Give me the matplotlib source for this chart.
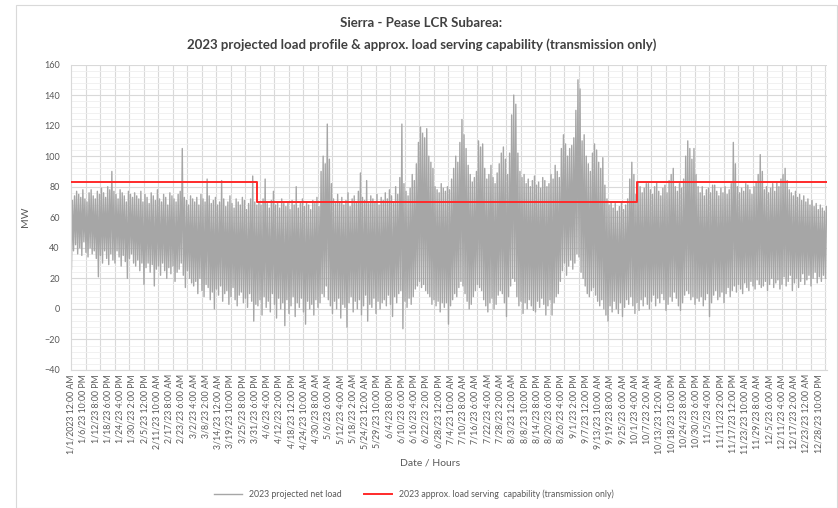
import matplotlib
matplotlib.use("Agg")
import matplotlib.pyplot as plt
import numpy as np
import pandas as pd
from matplotlib.patches import Rectangle
from matplotlib.ticker import FixedLocator, MultipleLocator

plt.rcParams["font.family"] = ["Lato", "DejaVu Sans"]

# Daily peak / trough of the 2023 projected net load (MW), by month
high_by_month = [
    [71, 74, 77, 75, 73, 78, 72, 70, 76, 78, 74, 72, 77, 75, 79, 76, 73, 80, 78, 90,
     77, 75, 72, 78, 76, 74, 70, 77, 75, 73, 76],
    [74, 72, 77, 70, 75, 73, 69, 76, 74, 71, 78, 72, 70, 75, 73, 68, 76, 74, 72, 70,
     75, 77, 105, 73, 71, 68, 74, 72],
    [70, 73, 68, 75, 72, 70, 85, 74, 69, 71, 73, 68, 70, 84, 72, 67, 70, 74, 69, 66,
     72, 70, 68, 73, 71, 65, 69, 72, 87, 70, 68],
    [70, 68, 72, 85, 69, 66, 71, 77, 68, 70, 66, 72, 69, 67, 70, 65, 71, 68, 80, 66,
     69, 72, 67, 70, 68, 65, 71, 69, 73, 67],
    [90, 100, 95, 121, 98, 82, 72, 69, 75, 70, 73, 68, 71, 76, 67, 72, 74, 70, 77, 89,
     73, 71, 84, 69, 74, 72, 70, 75, 68, 73, 71],
    [76, 72, 78, 74, 70, 80, 75, 86, 121, 82, 77, 74, 79, 88, 84, 95, 109, 119, 115, 112,
     118, 100, 96, 92, 80, 78, 76, 82, 79, 77],
    [80, 78, 85, 92, 100, 96, 109, 124, 114, 105, 94, 88, 83, 86, 90, 110, 106, 108, 92, 85,
     88, 94, 86, 82, 89, 95, 102, 106, 98, 88, 102],
    [127, 140, 134, 102, 90, 86, 88, 82, 85, 80, 84, 87, 81, 83, 79, 86, 84, 80, 82, 88,
     85, 94, 90, 86, 105, 114, 108, 100, 105, 107, 112],
    [130, 150, 144, 110, 114, 100, 95, 90, 102, 108, 104, 96, 92, 99, 81, 72, 68, 70, 66, 69,
     64, 67, 70, 65, 68, 72, 85, 96, 88, 75],
    [83, 80, 76, 79, 82, 82, 78, 75, 80, 83, 77, 74, 79, 81, 76, 84, 88, 92, 80, 77,
     82, 79, 85, 100, 110, 105, 98, 105, 88, 80, 76],
    [80, 74, 78, 79, 76, 81, 81, 77, 74, 79, 76, 80, 75, 78, 82, 109, 95, 80, 76, 79,
     77, 82, 81, 78, 75, 80, 83, 88, 101, 90],
    [78, 80, 76, 79, 82, 77, 83, 80, 85, 88, 92, 84, 78, 76, 74, 77, 73, 75, 71, 74,
     70, 72, 68, 71, 67, 69, 65, 68, 66, 64, 67],
]
low_by_month = [
    [26, 38, 42, 36, 40, 35, 44, 37, 34, 40, 36, 38, 33, 21, 35, 30, 38, 33, 29, 36,
     32, 30, 38, 34, 28, 35, 31, 20, 33, 36, 30],
    [28, 32, 25, 30, 16, 27, 30, 24, 29, 15, 26, 28, 22, 30, 25, 20, 27, 23, 28, 18,
     24, 26, 30, 22, 14, 25, 20, 17],
    [15, 18, 10, 20, 12, 8, 16, 14, 6, 11, 0, 13, 9, 15, 5, 10, 12, 3, 8, 14,
     6, 2, 9, 11, 4, 7, 1, 10, 5, -8, 3],
    [2, 6, -4, 8, 1, 5, -2, 10, 3, -6, 7, 0, 4, -11, 6, -3, 2, 8, -5, 4,
     1, 7, -2, -10, 5, 0, 3, -4, 6, 1],
    [4, 10, 8, 15, 6, 2, -3, 5, 0, 7, -6, 3, 1, -12, 4, 8, -2, 5, 0, 6,
     -4, 2, 9, -8, 3, 1, 7, -3, 5, 0, 4],
    [6, 2, 9, 3, -5, 8, 4, 10, 12, -13, 5, 1, 7, 3, 8, 13, 15, 18, 14, 16,
     12, 10, 8, 3, 6, 2, 5, -2, 4, 1],
    [4, -10, 2, 6, 10, 8, 14, 18, 15, 10, 5, 0, 3, 8, 12, 16, 14, 12, 6, 2,
     -2, 4, 7, 0, 3, 9, 12, 10, 4, -5, 8],
    [15, 20, 18, 8, 2, 5, -3, 4, 0, 6, 2, -1, -2, 5, 1, 7, 3, -4, 2, 6,
     -4, 4, 8, 10, 18, 25, 30, 22, 28, 32, 26],
    [30, 36, 34, 24, 20, 15, 10, 8, 12, 14, 9, 5, 2, 6, 0, -4, -8, 2, -2, 5,
     0, -3, 4, -5, 1, 6, 3, 8, 2, -3],
    [4, -1, 6, 2, 8, 3, 0, 5, 9, 2, 7, 4, 10, 6, -1, 3, 8, 5, 11, 7,
     2, -1, 4, 9, 12, 10, 6, 8, 3, 7, 5],
    [8, 2, 6, 10, -5, 4, 9, 12, 6, 8, 11, 4, 10, 14, 8, 12, 15, 11, 16, 13,
     10, 17, 14, 12, 18, 15, 13, 19, 16, 14],
    [15, 18, 12, 16, 20, 14, 17, 19, 13, 16, 21, 15, 18, 22, 12, 17, 20, 14, 18, 23,
     16, 19, 22, 15, 20, 24, 17, 21, 18, 22, 20],
]

# Load serving capability (MW) and the dates it changes
capability_mw = [83, 70, 83]
capability_from = ["2023-01-01", "2023-04-01", "2023-10-01"]

tick_labels = [
    "1/1/2023 12:00 AM", "1/6/23 10:00 PM", "1/12/23 8:00 PM", "1/18/23 6:00 PM",
    "1/24/23 4:00 PM", "1/30/23 2:00 PM", "2/5/23 12:00 PM", "2/11/23 10:00 AM",
    "2/17/23 8:00 AM", "2/23/23 6:00 AM", "3/2/23 4:00 AM", "3/8/23 2:00 AM",
    "3/14/23 12:00 AM", "3/19/23 10:00 PM", "3/25/23 8:00 PM", "3/31/23 6:00 PM",
    "4/6/23 4:00 PM", "4/12/23 2:00 PM", "4/18/23 12:00 PM", "4/24/23 10:00 AM",
    "4/30/23 8:00 AM", "5/6/23 6:00 AM", "5/12/23 4:00 AM", "5/18/23 2:00 AM",
    "5/24/23 12:00 AM", "5/29/23 10:00 PM", "6/4/23 8:00 PM", "6/10/23 6:00 PM",
    "6/16/23 4:00 PM", "6/22/23 2:00 PM", "6/28/23 12:00 PM", "7/4/23 10:00 AM",
    "7/10/23 8:00 AM", "7/16/23 6:00 AM", "7/22/23 4:00 AM", "7/28/23 2:00 AM",
    "8/3/23 12:00 AM", "8/8/23 10:00 PM", "8/14/23 8:00 PM", "8/20/23 6:00 PM",
    "8/26/23 4:00 PM", "9/1/23 2:00 PM", "9/7/23 12:00 PM", "9/13/23 10:00 AM",
    "9/19/23 8:00 AM", "9/25/23 6:00 AM", "10/1/23 4:00 AM", "10/7/23 2:00 AM",
    "10/13/23 12:00 AM", "10/18/23 10:00 PM", "10/24/23 8:00 PM", "10/30/23 6:00 PM",
    "11/5/23 4:00 PM", "11/11/23 2:00 PM", "11/17/23 12:00 PM", "11/23/23 10:00 AM",
    "11/29/23 8:00 AM", "12/5/23 6:00 AM", "12/11/23 4:00 AM", "12/17/23 2:00 AM",
    "12/23/23 12:00 AM", "12/28/23 10:00 PM",
]

daily_high = np.concatenate([np.array(m, dtype=float) for m in high_by_month])
daily_low = np.concatenate([np.array(m, dtype=float) for m in low_by_month])
n_days = len(daily_high)
n_hours = n_days * 24

# hour index of each daily trough / peak, the line zigzags between them
day_start = np.arange(n_days) * 24
load_x = np.column_stack([day_start + 5, day_start + 17]).ravel()
load_y = np.column_stack([daily_low, daily_high]).ravel()

year_start = pd.Timestamp("2023-01-01")
cap_x = [(pd.Timestamp(d) - year_start) / pd.Timedelta(hours=1) for d in capability_from]
cap_x = cap_x + [n_hours - 1]
cap_y = capability_mw + [capability_mw[-1]]

fig = plt.figure(figsize=(8.38, 5.08), dpi=100)
ax = fig.add_axes([0.0847, 0.2717, 0.9023, 0.6013])

ax.plot(load_x, load_y, color="#a6a6a6", lw=1.0, label="2023 projected net load", zorder=2)
ax.step(cap_x, cap_y, where="post", color="#ff2a2a", lw=1.4,
        label="2023 approx. load serving  capability (transmission only)", zorder=3)

ax.set_xlim(-0.5, n_hours - 0.5)
ax.set_ylim(-40, 160)
ax.yaxis.set_major_locator(MultipleLocator(20))
ax.yaxis.set_minor_locator(MultipleLocator(4))
ax.set_xticks(np.arange(len(tick_labels)) * 142)
ax.set_xticklabels(tick_labels, rotation=90, fontsize=6.3, color="#595959")
ax.xaxis.set_minor_locator(FixedLocator(np.arange(0, n_hours, 168)))
ax.tick_params(axis="y", labelsize=6.5, colors="#595959", length=0, pad=8)
ax.tick_params(axis="x", which="both", length=0, pad=3)
ax.tick_params(axis="y", which="minor", length=0)

ax.grid(axis="y", which="major", color="#d9d9d9", lw=0.8, zorder=0)
ax.grid(axis="y", which="minor", color="#efefef", lw=0.6, zorder=0)
ax.grid(axis="x", which="minor", color="#d9d9d9", lw=0.8, zorder=0)
ax.grid(axis="x", which="major", visible=False)
ax.set_axisbelow(True)
for side in ["top", "right"]:
    ax.spines[side].set_visible(False)
ax.spines["left"].set_color("#d9d9d9")
ax.spines["bottom"].set_color("#d9d9d9")

ax.set_ylabel("MW", fontsize=7.5, color="#595959", labelpad=10)
fig.text(0.513, 0.083, "Date / Hours", ha="center", fontsize=7.5, color="#595959")

fig.text(0.503, 0.955, "Sierra - Pease LCR Subarea:", ha="center", va="center",
         fontsize=9.5, fontweight="bold", color="#404040")
fig.text(0.503, 0.912,
         "2023 projected load profile & approx. load serving capability (transmission only)",
         ha="center", va="center", fontsize=9.5, fontweight="bold", color="#404040")

fig.legend(loc="center", bbox_to_anchor=(0.494, 0.027), ncol=2, frameon=False,
           fontsize=6.3, handlelength=3.2, columnspacing=2.5, labelcolor="#595959")

fig.patches.append(Rectangle((0.019, 0.0), 0.98, 0.99, transform=fig.transFigure,
                             fill=False, edgecolor="#d9d9d9", lw=0.8))

fig.savefig("out.png", dpi=100)
